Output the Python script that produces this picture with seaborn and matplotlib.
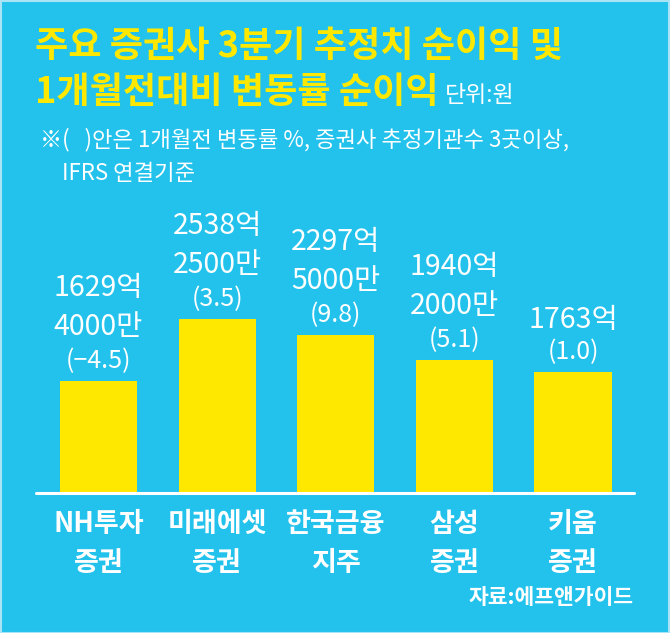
import matplotlib
matplotlib.use("Agg")
import matplotlib.pyplot as plt
import seaborn as sns
import pandas as pd
from matplotlib.patches import Rectangle

# ---- data ----
companies = ["NH투자\n증권", "미래에셋\n증권", "한국금융\n지주", "삼성\n증권", "키움\n증권"]
profit_eok = [1629, 2538, 2297, 1940, 1763]      # 억 원
profit_man = [4000, 2500, 5000, 2000, 0]         # 만 원
change_pct = [-4.5, 3.5, 9.8, 5.1, 1.0]          # 1개월전 대비 변동률 %

title_line1 = "주요 증권사 3분기 추정치 순이익 및"
title_line2 = "1개월전대비 변동률 순이익"
unit_text = "단위:원"
note_line1 = "※(   )안은 1개월전 변동률 %, 증권사 추정기관수 3곳이상,"
note_line2 = "IFRS 연결기준"
source_text = "자료:에프앤가이드"

BG = "#22C2EC"
YELLOW = "#FFE800"
WHITE = "#FFFFFF"

values = [e + m / 10000 for e, m in zip(profit_eok, profit_man)]
df = pd.DataFrame({"company": companies, "value": values})

sns.set_style("white", {"axes.facecolor": BG, "figure.facecolor": BG})
plt.rcParams["font.family"] = ["Noto Sans CJK KR", "DejaVu Sans"]
plt.rcParams["axes.unicode_minus"] = True

W, H = 670, 633
fig = plt.figure(figsize=(W / 100, H / 100), dpi=100)
fig.patch.set_facecolor(BG)

# axes placed in pixel coordinates
ax_left, ax_right, ax_top, ax_bottom = 36, 634, 150, 493
ax = fig.add_axes([ax_left / W, 1 - ax_bottom / H, (ax_right - ax_left) / W, (ax_bottom - ax_top) / H])
ax.set_facecolor(BG)

sns.barplot(data=df, x="company", y="value", color=YELLOW, width=0.65,
            saturation=1, ax=ax, zorder=2, linewidth=0, edgecolor=YELLOW)
ax.set_xlim(-0.527, 4.514)
ax.set_ylim(0, 5000)
for s in ax.spines.values():
    s.set_visible(False)
ax.axhline(0, color=WHITE, lw=2.2, zorder=3, clip_on=False)
ax.set_yticks([])
ax.set_xlabel("")
ax.set_ylabel("")
ax.tick_params(axis="x", length=0, pad=12)
ax.set_xticks(range(len(companies)))
ax.set_xticklabels(companies, color=WHITE, fontsize=19.5, fontweight="semibold", linespacing=1.5)

# value labels
for i, (e, m, c, v) in enumerate(zip(profit_eok, profit_man, change_pct, values)):
    ctext = f"({c:.1f})".replace("-", "−")
    ax.annotate(ctext, xy=(i, v), xytext=(0, 20), textcoords="offset pixels",
                ha="center", va="center", color=WHITE, fontsize=18, fontweight="medium")
    if m > 0:
        ax.annotate(f"{m}만", xy=(i, v), xytext=(0, 54), textcoords="offset pixels",
                    ha="center", va="center", color=WHITE, fontsize=20.5, fontweight="medium")
        ax.annotate(f"{e}억", xy=(i, v), xytext=(0, 93), textcoords="offset pixels",
                    ha="center", va="center", color=WHITE, fontsize=20.5, fontweight="medium")
    else:
        ax.annotate(f"{e}억", xy=(i, v), xytext=(0, 52), textcoords="offset pixels",
                    ha="center", va="center", color=WHITE, fontsize=20.5, fontweight="medium")

# titles and notes
def fx(px):
    return px / W

def fy(py):
    return 1 - py / H

fig.text(fx(35), fy(46), title_line1, color=YELLOW, fontsize=26, fontweight="bold",
         ha="left", va="center")
fig.text(fx(35), fy(93), title_line2, color=YELLOW, fontsize=26, fontweight="bold",
         ha="left", va="center")
fig.text(fx(445), fy(96), unit_text, color=WHITE, fontsize=16.5, fontweight="medium",
         ha="left", va="center")
fig.text(fx(40), fy(140), note_line1, color=WHITE, fontsize=16, fontweight="medium",
         ha="left", va="center")
fig.text(fx(62), fy(174), note_line2, color=WHITE, fontsize=16, fontweight="medium",
         ha="left", va="center")
fig.text(fx(634), fy(597), source_text, color=WHITE, fontsize=15.5, fontweight="semibold",
         ha="right", va="center")

# thin light frame
fig.patches.append(Rectangle((0.5 / W, 0.5 / H), 1 - 1.5 / W, 1 - 1.5 / H,
                             transform=fig.transFigure, fill=False,
                             edgecolor="#A8E4F6", lw=1.5))

fig.savefig("out.png", dpi=100, facecolor=BG)
